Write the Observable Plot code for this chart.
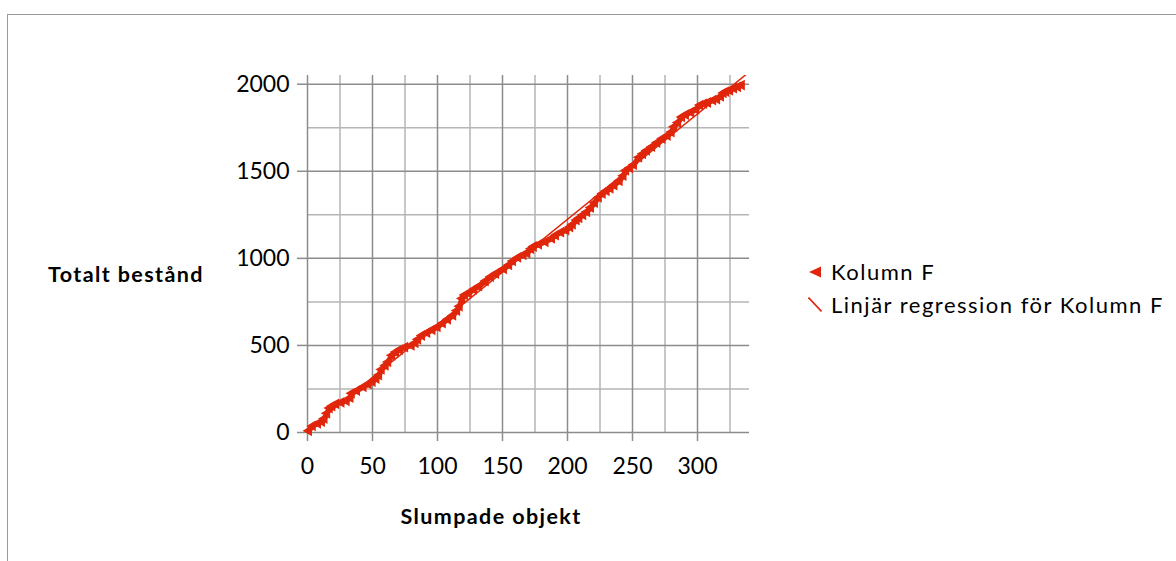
<!DOCTYPE html>
<html><head><meta charset="utf-8">
<script src="https://cdn.jsdelivr.net/npm/d3@7"></script>
<script src="https://cdn.jsdelivr.net/npm/@observablehq/plot@0.6"></script>
<style>
body{margin:0;background:#fff;font-family:Lato,sans-serif;}
#wrap{position:relative;width:1176px;height:561px;overflow:hidden;background:#fff;}
#frame{position:absolute;left:7px;top:14px;width:1200px;height:600px;border-left:1.5px solid #9a9a9a;border-top:1.5px solid #9a9a9a;}
#chart{position:absolute;left:0;top:0;}
.title{position:absolute;font-weight:bold;font-size:21.5px;letter-spacing:1.4px;color:#000;white-space:nowrap;}
#ytitle{left:48px;top:261px;}
#xtitle{left:0;width:982px;text-align:center;top:503px;}
.leg{position:absolute;left:808px;font-size:22px;letter-spacing:1.5px;color:#000;white-space:nowrap;display:flex;align-items:center;}
.leg svg{margin-right:9px;}
</style></head>
<body>
<div id="wrap">
  <div id="frame"></div>
  <div id="chart"></div>
  <div class="title" id="ytitle">Totalt bestånd</div>
  <div class="title" id="xtitle">Slumpade objekt</div>
  <div class="leg" id="leg1" style="top:258px;"></div>
  <div class="leg" id="leg2" style="top:291px;"></div>
</div>
<script>
// Series "Kolumn F": cumulative total
const objekt = [1,4,8,11,13,15,17,19,22,26,30,33,34,38,43,47,50,53,55,57,60,62,65,68,71,75,80,83,85,88,92,96,100,104,108,112,115,117,119,121,124,128,132,137,141,145,151,155,158,162,166,169,172,174,178,183,188,191,195,199,202,204,207,209,212,215,218,221,224,227,230,233,236,240,243,245,248,251,255,258,261,265,269,273,277,280,282,285,288,291,295,299,302,305,308,312,315,318,320,322,325,328,331,334];
const bestand = [10,38,52,62,80,110,140,152,165,173,182,200,225,240,262,278,292,310,330,362,385,405,443,462,476,490,500,515,535,557,573,590,606,628,650,672,700,725,770,790,800,822,840,870,895,913,940,962,985,1005,1020,1030,1055,1068,1080,1095,1115,1133,1150,1162,1180,1195,1220,1232,1250,1267,1292,1320,1350,1372,1388,1402,1420,1445,1475,1505,1520,1538,1580,1600,1620,1641,1665,1688,1705,1725,1755,1780,1812,1825,1840,1855,1880,1888,1895,1908,1915,1930,1950,1958,1965,1977,1985,1995];
const xMajorTicks = [0,50,100,150,200,250,300];
const xMinorTicks = [25,75,125,175,225,275,325];
const yMajorTicks = [0,500,1000,1500,2000];
const yMinorTicks = [250,750,1250,1750];
const seriesName = "Kolumn F";
const regName = "Linjär regression för Kolumn F";

const RED = "#e0260b";
const data = objekt.map((x,i)=>({x, y: bestand[i]}));

// least-squares regression
const mx = d3.mean(objekt), my = d3.mean(bestand);
const slope = d3.sum(data, d => (d.x-mx)*(d.y-my)) / d3.sum(data, d => (d.x-mx)**2);
const intercept = my - slope*mx;
const xDomain = [0,340];
const regLine = xDomain.map(x => ({x, y: intercept + slope*x}));

const plot = Plot.plot({
  width: 1176, height: 561,
  marginLeft: 307, marginRight: 427, marginTop: 75, marginBottom: 129,
  x: {domain: xDomain},
  y: {domain: [0,2050]},
  style: {fontFamily: "Lato, sans-serif", fontSize: "23px", color: "#000", background: "transparent", overflow: "visible"},
  marks: [
    Plot.ruleX(xMinorTicks, {stroke: "#b5b5b5", strokeWidth: 1.5}),
    Plot.ruleY(yMinorTicks, {stroke: "#b5b5b5", strokeWidth: 1.5}),
    Plot.ruleX(xMajorTicks, {stroke: "#8c8c8c", strokeWidth: 1.5}),
    Plot.ruleY(yMajorTicks, {stroke: "#8c8c8c", strokeWidth: 1.5}),
    Plot.axisX({ticks: xMajorTicks, tickSize: 9, tickPadding: 16, stroke: "#8c8c8c", strokeWidth: 1.5, label: null, tickFormat: d => String(d)}),
    Plot.axisY({ticks: yMajorTicks, tickSize: 10, tickPadding: 8, stroke: "#8c8c8c", strokeWidth: 1.5, label: null, tickFormat: d => String(d)}),
    Plot.line(data, {x: "x", y: "y", stroke: RED, strokeWidth: 5.5, strokeLinejoin: "round"}),
    Plot.dot(data, {x: "x", y: "y", symbol: "triangle", rotate: -90, r: 4, fill: RED, stroke: "none"}),
    Plot.line(regLine, {x: "x", y: "y", stroke: RED, strokeWidth: 1.5, clip: true})
  ]
});
document.getElementById("chart").appendChild(plot);

document.getElementById("leg1").innerHTML =
  `<svg width="14" height="12"><polygon points="1,6 13,0.5 13,11.5" fill="${RED}"/></svg><span>${seriesName}</span>`;
document.getElementById("leg2").innerHTML =
  `<svg width="14" height="15"><line x1="0.5" y1="0.5" x2="13.5" y2="14.5" stroke="${RED}" stroke-width="1.6"/></svg><span>${regName}</span>`;
</script>
</body></html>
